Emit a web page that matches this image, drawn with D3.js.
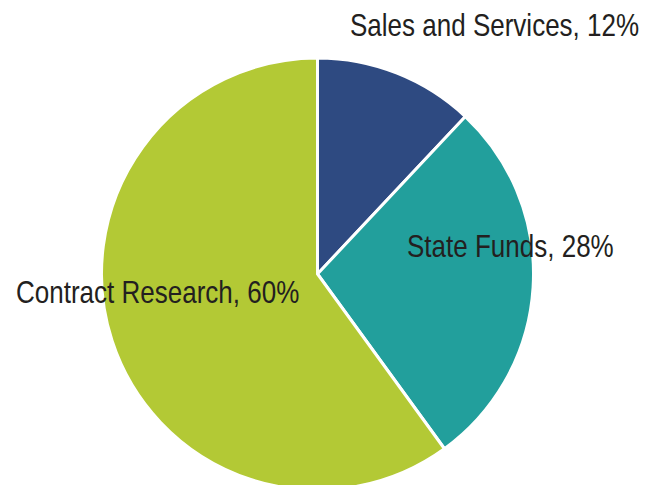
<!DOCTYPE html>
<html>
<head>
<meta charset="utf-8">
<script src="https://cdn.jsdelivr.net/npm/d3@7"></script>
<style>
  html, body { margin: 0; padding: 0; background: #fff; }
  svg { display: block; }
  .lbl { font-family: "Liberation Sans", Arial, sans-serif; font-size: 31.5px; fill: #231f20; }
</style>
</head>
<body>
<div id="chart"></div>
<script>
// Funding sources
const categories = ['Sales and Services', 'State Funds', 'Contract Research'];
const shares = [12, 28, 60];
const colors = ['#2e4a81', '#229f9c', '#b3c935'];

const width = 657, height = 485;
const cx = 317.5, cy = 274, radius = 216;

// label anchor points (start of text, baseline)
const labelPos = [[350, 36], [407, 257], [16, 303]];
const narrow = 0.826; // no Arial Narrow installed, squeeze the regular face

const data = categories.map((c, i) => ({ name: c, value: shares[i], color: colors[i] }));

const svg = d3.select('#chart').append('svg')
    .attr('width', width)
    .attr('height', height);

const pie = d3.pie().sort(null).value(d => d.value);
const arc = d3.arc().innerRadius(0).outerRadius(radius);

const g = svg.append('g').attr('transform', `translate(${cx},${cy})`);

g.selectAll('path')
    .data(pie(data))
    .join('path')
    .attr('d', arc)
    .attr('fill', d => d.data.color)
    .attr('stroke', '#fff')
    .attr('stroke-width', 3)
    .attr('stroke-linejoin', 'miter');

svg.append('g')
    .selectAll('text')
    .data(data)
    .join('text')
    .attr('class', 'lbl')
    .attr('transform', (d, i) => `translate(${labelPos[i][0]},${labelPos[i][1]}) scale(${narrow},1)`)
    .text(d => `${d.name}, ${d.value}%`);
</script>
</body>
</html>
